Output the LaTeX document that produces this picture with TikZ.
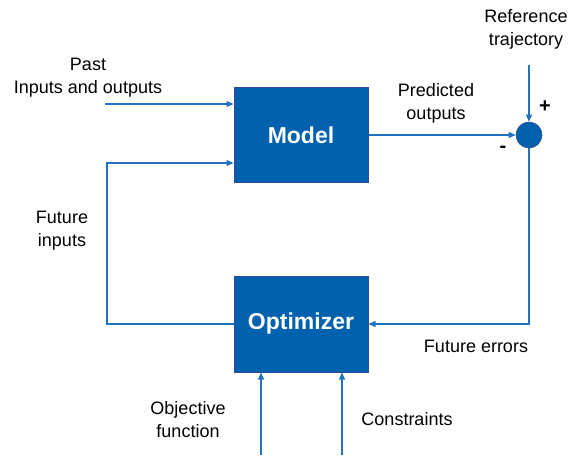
\documentclass[tikz,border=0pt]{standalone}
\usepackage{fontspec}
\setmainfont{Liberation Sans}
\usetikzlibrary{arrows.meta}
\definecolor{boxblue}{HTML}{0062AF}
\definecolor{boxedge}{HTML}{34489A}
\definecolor{wire}{HTML}{2272C0}
\tikzset{
  block/.style={draw=boxedge, line width=1pt, fill=boxblue, text=white,
    font=\fontsize{23}{26}\selectfont\bfseries, inner sep=0pt},
  lbl/.style={font=\fontsize{18}{23}\selectfont, align=center, inner sep=0pt},
  sign/.style={font=\fontsize{20}{22}\selectfont\bfseries, inner sep=0pt},
  wireline/.style={draw=wire, line width=1.2pt},
  flow/.style={wireline, -{Triangle[length=7pt,width=6pt]}},
}
\begin{document}
\begin{tikzpicture}[x=1pt,y=-1pt]
\useasboundingbox (0,0) rectangle (569,458);
% blocks
\node[block, minimum width=134pt, minimum height=95pt] (model) at (301,135) {Model};
\node[block, minimum width=134pt, minimum height=96pt] (opt) at (301,324) {Optimizer};
% summing junction
\node[circle, fill=boxblue, draw=boxedge, line width=0.6pt, minimum size=26pt, inner sep=0pt] (sum) at (529,135) {};
% free ends of connectors
\coordinate (pastin) at (105,104);
\coordinate (refin) at (529,65);
\coordinate (loopL) at (107,163);
\coordinate (loopLb) at (107,324);
\coordinate (loopR) at (529,324);
\coordinate (objin) at (261,455);
\coordinate (conin) at (342,455);
% connectors
\draw[flow] (pastin) -- (pastin -| model.west);
\draw[flow] (model.east) -- (sum.west);
\draw[flow] (refin) -- (sum.north);
\draw[flow] (sum.south) -- (loopR) -- (opt.east);
\draw[flow] (opt.west) -- (loopLb) -- (loopL) -- (loopL -| model.west);
\draw[flow] (objin) -- (objin |- opt.south);
\draw[flow] (conin) -- (conin |- opt.south);
% labels
\node[lbl] (lpast) at (88,78) {Past\\Inputs and outputs};
\node[lbl] (lpred) at (436,103) {Predicted\\outputs};
\node[lbl] (lref) at (526,29) {Reference\\trajectory};
\node[sign] (lplus) at (545,107) {+};
\node[sign] (lminus) at (503,149) {-};
\node[lbl] (lfut) at (62,231) {Future\\inputs};
\node[lbl] (lerr) at (476,346) {Future errors};
\node[lbl] (lobj) at (188,420) {Objective\\function};
\node[lbl] (lcon) at (407,419) {Constraints};
\end{tikzpicture}
\end{document}
